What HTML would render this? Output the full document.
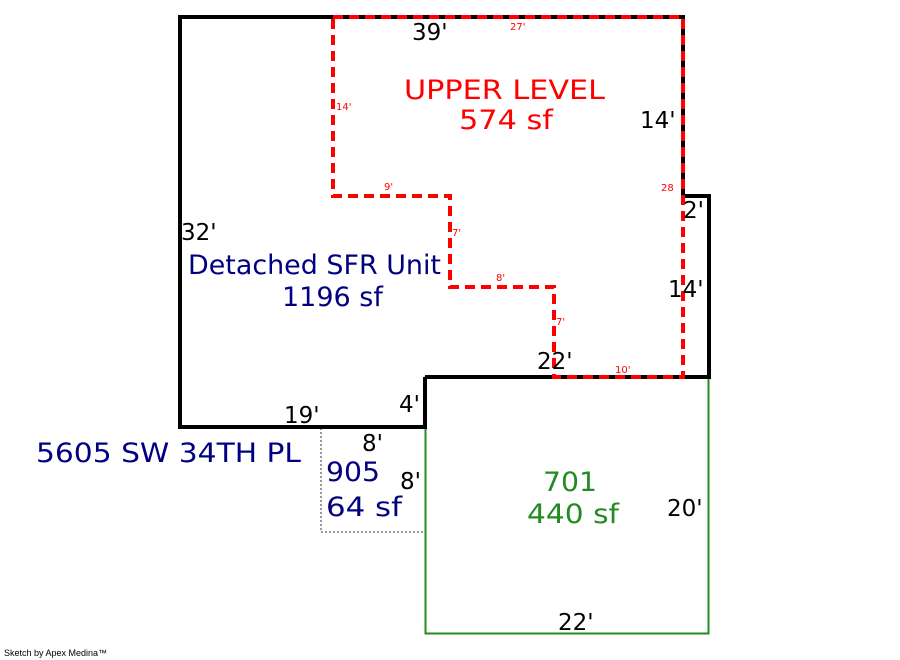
<!DOCTYPE html>
<html><head><style>body{margin:0;background:#fff}svg{display:block}text{font-family:"DejaVu Sans","Liberation Sans",sans-serif}</style></head><body>
<svg width="900" height="660" viewBox="0 0 900 660" xmlns="http://www.w3.org/2000/svg">
<rect width="900" height="660" fill="#fff"/>
<polyline points="321,428 321,532 425,532" fill="none" stroke="#999" stroke-width="2" stroke-dasharray="2,2"/>
<rect x="425.5" y="377.5" width="283" height="256" fill="none" stroke="#228B22" stroke-width="2"/>
<polyline points="425,377 425,427 180,427 180,17 683,17 683,196 709,196 709,377 425,377" fill="none" stroke="#000" stroke-width="4"/>
<polygon points="333,17 683,17 683,377 554,377 554,287 450,287 450,196 333,196" fill="none" stroke="#f00" stroke-width="4" stroke-dasharray="10,6"/>
<g font-size="23" fill="#000">
<text x="412" y="40">39'</text>
<text x="640" y="128">14'</text>
<text x="683" y="218">2'</text>
<text x="668" y="297">14'</text>
<text x="181" y="240">32'</text>
<text x="537" y="369">22'</text>
<text x="399" y="412">4'</text>
<text x="284" y="423">19'</text>
<text x="362" y="451">8'</text>
<text x="400" y="489">8'</text>
<text x="667" y="516">20'</text>
<text x="558" y="630">22'</text>
</g>
<g font-size="10" fill="#f00">
<text x="510" y="30">27'</text>
<text x="336" y="110">14'</text>
<text x="384" y="190">9'</text>
<text x="452" y="236">7'</text>
<text x="496" y="281">8'</text>
<text x="556" y="325">7'</text>
<text x="615" y="373">10'</text>
<text x="661" y="191">28</text>
</g>
<g font-size="27" fill="#f00">
<text x="404" y="99" textLength="201" lengthAdjust="spacingAndGlyphs">UPPER LEVEL</text>
<text x="459" y="129" textLength="94" lengthAdjust="spacingAndGlyphs">574 sf</text>
</g>
<g font-size="27" fill="#000080">
<text x="188" y="274" textLength="253" lengthAdjust="spacingAndGlyphs">Detached SFR Unit</text>
<text x="282" y="306">1196 sf</text>
<text x="36" y="462" textLength="265" lengthAdjust="spacingAndGlyphs">5605 SW 34TH PL</text>
<text x="326" y="481" textLength="54" lengthAdjust="spacingAndGlyphs">905</text>
<text x="326" y="516" textLength="76" lengthAdjust="spacingAndGlyphs">64 sf</text>
</g>
<g font-size="27" fill="#228B22">
<text x="543" y="491" textLength="54" lengthAdjust="spacingAndGlyphs">701</text>
<text x="527" y="523" textLength="92" lengthAdjust="spacingAndGlyphs">440 sf</text>
</g>
<text x="4" y="656" font-size="9" fill="#000" style="font-family:'Liberation Sans',sans-serif">Sketch by Apex Medina™</text>
</svg>
</body></html>
